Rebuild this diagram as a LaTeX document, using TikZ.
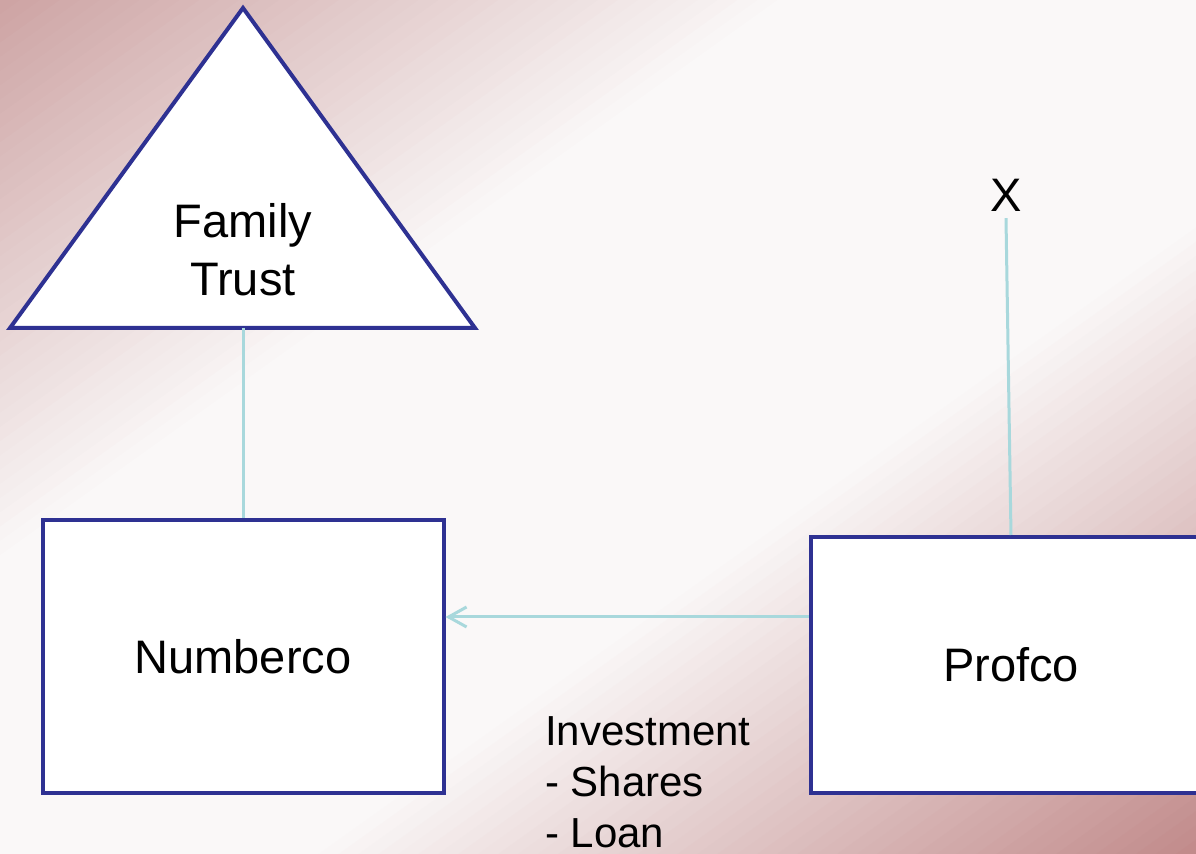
\documentclass[tikz,border=0pt]{standalone}
\usepackage{fontspec}
\setmainfont{Liberation Sans}
\usetikzlibrary{arrows.meta}
\definecolor{navyline}{RGB}{46,49,146}
\definecolor{linkblue}{RGB}{168,216,220}
\definecolor{rosetl}{RGB}{205,163,163}
\definecolor{rosebr}{RGB}{193,138,138}
\definecolor{rosemid}{RGB}{250,248,248}

\tikzset{
  entity/.style={draw=navyline, line width=2pt, fill=white, minimum width=200.5pt},
  link/.style={draw=linkblue, line width=1.5pt},
  bigtext/.style={font=\fontsize{23.5}{29}\selectfont, align=center},
}

\begin{document}
\begin{tikzpicture}[x=0.5pt,y=-0.5pt]

% page and background
\useasboundingbox (0,0) rectangle (1196,854);
\clip (0,0) rectangle (1196,854);
% rose in the two corners, white band between (strips along the diagonal)
\foreach \i in {0,...,119}{
  \pgfmathsetmacro{\ta}{\i/120}
  \pgfmathsetmacro{\tb}{(\i+1.3)/120}
  \pgfmathsetmacro{\tm}{(\i+0.5)/120}
  \pgfmathsetmacro{\p}{100*max(0,1-\tm/0.33)+100*max(0,1-(1-\tm)/0.37)}
  \pgfmathtruncatemacro{\side}{\tm<0.5}
  \ifnum\side=1 \def\corner{rosetl}\else\def\corner{rosebr}\fi
  \fill[\corner!\p!rosemid] ({2*\ta*1196},0) -- ({2*\tb*1196},0) -- (0,{2*\tb*854}) -- (0,{2*\ta*854}) -- cycle;
}

% the trust
\filldraw[draw=navyline, fill=white, line width=2pt] (243,8) -- (475,328) -- (10,328) -- cycle;
\coordinate (trustbase) at (243,328);
\node[bigtext] (trust) at (243,250) {Family\\Trust};

% the companies
\node[entity, minimum height=136.5pt, bigtext] (numberco) at (243,656.5) {Numberco};
\node[entity, minimum height=128pt, bigtext] (profco) at (1011,665) {Profco};
\node[bigtext] (x) at (1006,195) {X};

% ownership lines
\draw[link] (trustbase) -- (numberco.north);
\draw[link] (x.south) -- (profco.north);

% investment
\coordinate (arrowrow) at (0,617);
\draw[link, -{Straight Barb[length=9pt, width=10pt]}] (profco.west |- arrowrow) -- (numberco.east |- arrowrow);
\node[anchor=west, align=left, font=\fontsize{21}{25.5}\selectfont] (invest) at (538,782) {Investment\\- Shares\\- Loan};

\end{tikzpicture}
\end{document}
